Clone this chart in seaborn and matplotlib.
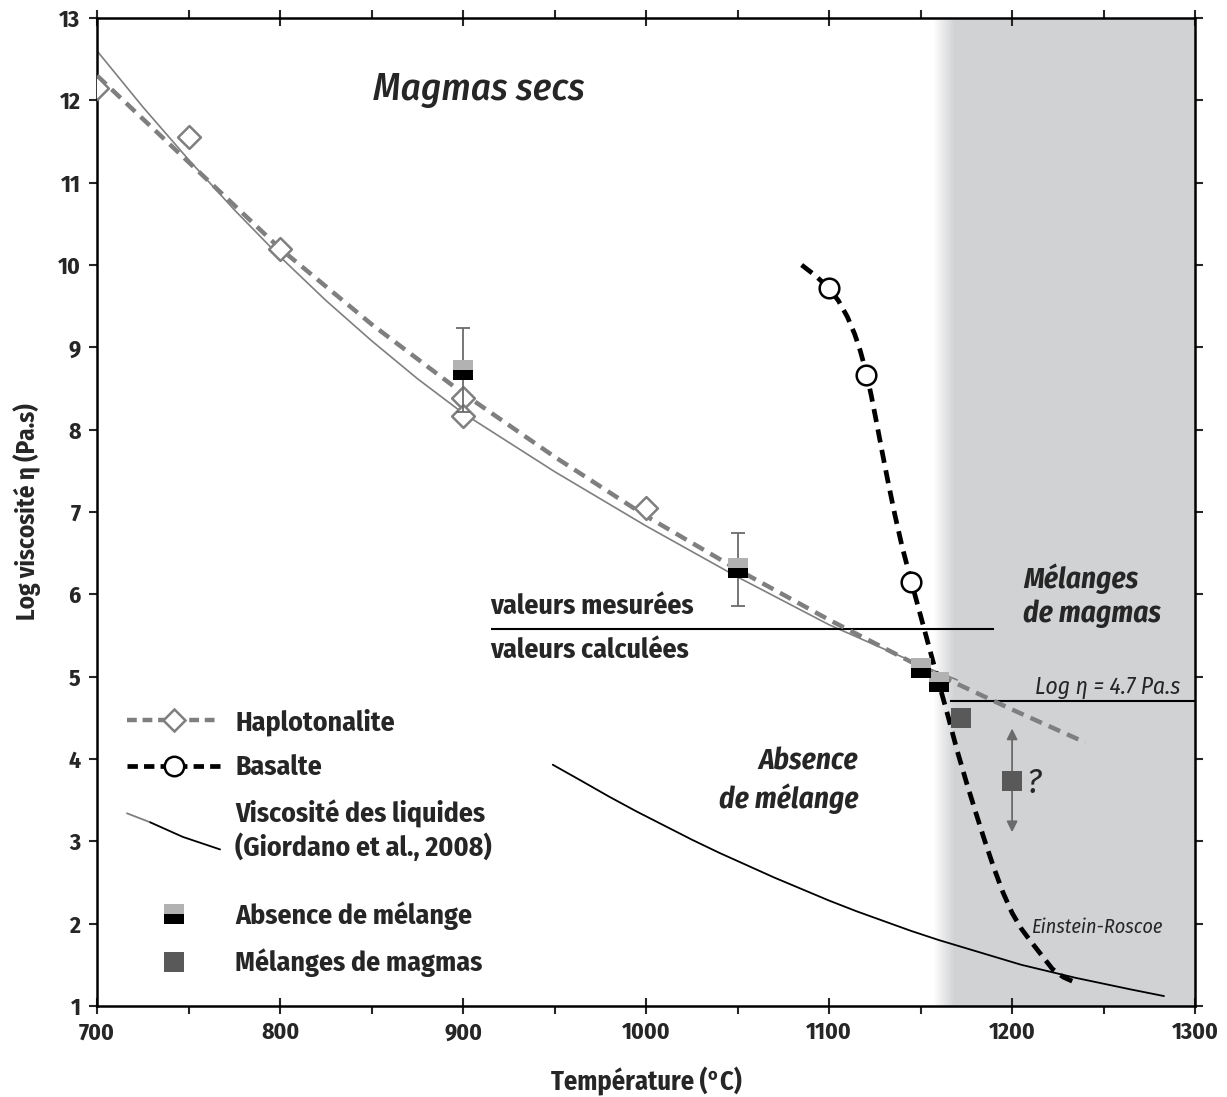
import numpy as np
import pandas as pd
import seaborn as sns
import matplotlib
import matplotlib.pyplot as plt
from matplotlib.lines import Line2D
from matplotlib.path import Path
from matplotlib.colors import LinearSegmentedColormap
from matplotlib.legend_handler import HandlerBase, HandlerTuple
from matplotlib.ticker import MultipleLocator

matplotlib.use("Agg")

# haplotonalite measured points and fitted (dashed) curve
hap_T = [700, 750, 800, 900, 900, 1000]
hap_eta = [12.15, 11.55, 10.2, 8.38, 8.17, 7.05]
hap_fit_T = [700, 750, 800, 850, 900, 950, 1000, 1050, 1100, 1150, 1200, 1240]
hap_fit_eta = [12.3, 11.25, 10.2, 9.28, 8.44, 7.67, 6.95, 6.3, 5.69, 5.12, 4.6, 4.2]

# Giordano et al. (2008) liquid viscosity, haplotonalite
liq_T = [700, 725, 750, 775, 800, 825, 850, 875, 900, 950, 1000, 1050, 1100, 1150, 1170]
liq_eta = [12.6, 11.92, 11.28, 10.67, 10.1, 9.57, 9.08, 8.62, 8.2, 7.49, 6.83, 6.21, 5.63,
           5.14, 4.96]

# basalt measured points and curve
bas_T = [1100, 1120, 1145]
bas_eta = [9.72, 8.66, 6.15]
bas_fit_T = [1085, 1092, 1099, 1105, 1110, 1114, 1117, 1120, 1123, 1126, 1129, 1132, 1136, 1140,
             1145, 1150, 1155, 1160, 1165, 1170, 1175, 1180, 1185, 1190, 1195, 1200, 1205, 1210,
             1216, 1222, 1228, 1234]
bas_fit_eta = [10.0, 9.88, 9.74, 9.57, 9.37, 9.16, 8.96, 8.72, 8.42, 8.08, 7.73, 7.39, 6.96, 6.57,
               6.15, 5.74, 5.33, 4.92, 4.52, 4.1, 3.72, 3.36, 3.01, 2.68, 2.38, 2.13, 1.94, 1.79,
               1.62, 1.45, 1.35, 1.29]

# Einstein-Roscoe curve
er_T = [949, 965, 980, 995, 1010, 1025, 1040, 1055, 1070, 1085, 1100, 1115, 1130, 1145, 1160,
        1175, 1190, 1205, 1220, 1235, 1250, 1265, 1283]
er_eta = [3.93, 3.73, 3.54, 3.36, 3.19, 3.02, 2.86, 2.71, 2.56, 2.42, 2.28, 2.15, 2.03, 1.91,
          1.8, 1.7, 1.6, 1.5, 1.42, 1.34, 1.27, 1.2, 1.12]

# experiments: no mixing (two-tone squares) / mixing (dark squares)
absence_T = [900, 1050, 1150, 1160]
absence_eta = [8.72, 6.32, 5.10, 4.94]
err_T = [900, 1050]
err_mid = [8.72, 6.32]
err_lo = [8.21, 5.86]
err_hi = [9.23, 6.75]
melange_T = [1172, 1200]
melange_eta = [4.5, 3.73]
unsure_T = 1200
unsure_range = [3.11, 4.37]

threshold_eta = 4.7
threshold_T = [1166, 1300]
sep_eta = 5.58
sep_T = [915, 1190]
shade_fade = 1157
shade_start = 1169

GRAY = "#7f7f7f"
LIGHT = "#b2b2b2"
DARK = "#595959"
SHADE = "#d1d2d4"
FONT = ["Fira Sans Condensed", "PT Sans Narrow", "Roboto Condensed", "Liberation Sans", "DejaVu Sans"]

sns.set_theme(style="ticks")
plt.rcParams["font.family"] = FONT
plt.rcParams["font.weight"] = "bold"

fig = plt.figure(figsize=(12.27, 10.97), dpi=100)
ax = fig.add_axes([0.0791, 0.0830, 0.8949, 0.9006])

# mixing zone with a soft left edge
grad = np.linspace(0, 1, 64).reshape(1, -1)
ax.imshow(grad, extent=[shade_fade, shade_start, 1, 13], aspect="auto",
          cmap=LinearSegmentedColormap.from_list("fade", ["white", SHADE]), zorder=0)
ax.axvspan(shade_start, 1300, color=SHADE, lw=0, zorder=0)

sns.lineplot(x=liq_T, y=liq_eta, ax=ax, color=GRAY, linewidth=1.2, zorder=2)
sns.lineplot(x=er_T, y=er_eta, ax=ax, color="black", linewidth=1.3, zorder=2)
sns.lineplot(x=hap_fit_T, y=hap_fit_eta, ax=ax, color=GRAY, linewidth=3.2,
             linestyle=(0, (2.8, 1.7)), zorder=3)
sns.lineplot(x=bas_fit_T, y=bas_fit_eta, ax=ax, color="black", linewidth=3.4,
             linestyle=(0, (2.8, 1.6)), zorder=3)

ax.hlines(sep_eta, sep_T[0], sep_T[1], color="black", lw=1.5, zorder=2)
ax.hlines(threshold_eta, threshold_T[0], threshold_T[1], color="black", lw=1.5, zorder=2)

sns.scatterplot(x=hap_T, y=hap_eta, ax=ax, marker="D", s=135, color="white",
                edgecolor=GRAY, linewidth=1.8, zorder=4)
sns.scatterplot(x=bas_T, y=bas_eta, ax=ax, marker="o", s=200, color="white",
                edgecolor="black", linewidth=1.8, zorder=4)

# error bars on measured no-mixing runs
yerr = [np.subtract(err_mid, err_lo), np.subtract(err_hi, err_mid)]
ax.errorbar(err_T, err_mid, yerr=yerr, fmt="none", ecolor="#6b6b6b", elinewidth=1.3,
            capsize=5, capthick=1.3, zorder=5)

top_half = Path([(-1, 0), (1, 0), (1, 1), (-1, 1), (-1, 0)])
bot_half = Path([(-1, -1), (1, -1), (1, 0), (-1, 0), (-1, -1)])
ax.scatter(absence_T, absence_eta, marker=top_half, s=225, color=LIGHT, lw=0, zorder=6)
ax.scatter(absence_T, absence_eta, marker=bot_half, s=225, color="black", lw=0, zorder=6)

ax.annotate("", xy=(unsure_T, unsure_range[1]), xytext=(unsure_T, unsure_range[0]),
            arrowprops=dict(arrowstyle="<|-|>", color="#6b6b6b", lw=1.3,
                            mutation_scale=16, shrinkA=0, shrinkB=0), zorder=5)
sns.scatterplot(x=melange_T, y=melange_eta, ax=ax, marker="s", s=225, color=DARK,
                linewidth=0, zorder=6)

# annotations
ax.text(851, 12.13, "Magmas secs", fontsize=28, style="italic", weight="medium", va="center")
ax.text(1206, 5.98, "Mélanges\nde magmas", fontsize=21, style="italic", weight="bold",
        va="center", ha="left", linespacing=1.25)
ax.text(1116, 3.73, "Absence\nde mélange", fontsize=21, style="italic", weight="bold",
        va="center", ha="right", multialignment="right", linespacing=1.35)
ax.text(915, 5.86, "valeurs mesurées", fontsize=20, weight="bold", va="center")
ax.text(915, 5.32, "valeurs calculées", fontsize=20, weight="bold", va="center")
ax.text(1292, 4.87, "Log η = 4.7 Pa.s", fontsize=17, style="italic", weight="normal",
        va="center", ha="right")
ax.text(1211, 1.95, "Einstein-Roscoe", fontsize=14.5, style="italic", weight="normal",
        va="center", ha="left")
ax.text(1208, 3.7, "?", fontsize=25, style="italic", weight="normal", va="center", ha="left")

ax.set_xlim(700, 1300)
ax.set_ylim(1, 13)
ax.set_xticks(range(700, 1301, 100))
ax.xaxis.set_minor_locator(MultipleLocator(50))
ax.set_yticks(range(1, 14))
ax.tick_params(axis="x", which="major", direction="inout", length=12, width=1.5,
               top=True, bottom=True, labelsize=17, pad=5)
ax.tick_params(axis="x", which="minor", direction="out", length=6, width=1.5,
               top=True, bottom=True)
ax.tick_params(axis="y", direction="out", length=6, width=1.5, left=True, right=True,
               labelsize=17, pad=6)
for s in ax.spines.values():
  s.set_linewidth(1.8)
  s.set_color("black")
ax.set_xlabel("Température (°C)", fontsize=19, weight="bold", labelpad=16)
ax.set_ylabel("Log viscosité η (Pa.s)", fontsize=18, weight="bold", labelpad=12)


class HandlerSlant(HandlerBase):
  def create_artists(self, legend, orig_handle, xdescent, ydescent, width, height, fontsize, trans):
    x0 = -xdescent
    yc = -ydescent + height / 2
    a = Line2D([x0, x0 + 0.25 * width], [yc + 13, yc + 6.5], color=GRAY, lw=1.3, transform=trans)
    b = Line2D([x0 + 0.25 * width, x0 + 0.6 * width, x0 + width], [yc + 6.5, yc - 4, yc - 13],
               color="black", lw=1.3, transform=trans)
    return [a, b]


h_hap = Line2D([], [], color=GRAY, lw=3.2, ls=(0, (2.2, 1.3)), marker="D", markersize=11.6,
               markerfacecolor="white", markeredgecolor=GRAY, markeredgewidth=1.8)
h_bas = Line2D([], [], color="black", lw=3.4, ls=(0, (2.2, 1.3)), marker="o", markersize=14,
               markerfacecolor="white", markeredgecolor="black", markeredgewidth=1.8)
h_liq = Line2D([], [])
h_top = Line2D([], [], ls="none", marker=top_half, markersize=15, color=LIGHT, markeredgewidth=0)
h_bot = Line2D([], [], ls="none", marker=bot_half, markersize=15, color="black", markeredgewidth=0)
h_mix = Line2D([], [], ls="none", marker="s", markersize=15, color=DARK, markeredgewidth=0)

legend_kw = dict(frameon=False, borderpad=0, borderaxespad=0, handlelength=3.35,
                 handletextpad=0.55, labelspacing=0.68, numpoints=1,
                 prop=dict(family=FONT, weight="bold", size=20),
                 loc="upper left", bbox_transform=fig.transFigure)
leg1 = ax.legend([h_hap, h_bas, h_liq],
                 ["Haplotonalite", "Basalte", "Viscosité des liquides\n(Giordano et al., 2008)"],
                 bbox_to_anchor=(127 / 1227, 1 - 708 / 1097),
                 handler_map={h_liq: HandlerSlant()}, **legend_kw)
ax.add_artist(leg1)
ax.legend([(h_top, h_bot), h_mix], ["Absence de mélange", "Mélanges de magmas"],
          bbox_to_anchor=(127 / 1227, 1 - 901 / 1097),
          handler_map={tuple: HandlerTuple(ndivide=1)}, **legend_kw)

plt.savefig("out.png", dpi=100)
